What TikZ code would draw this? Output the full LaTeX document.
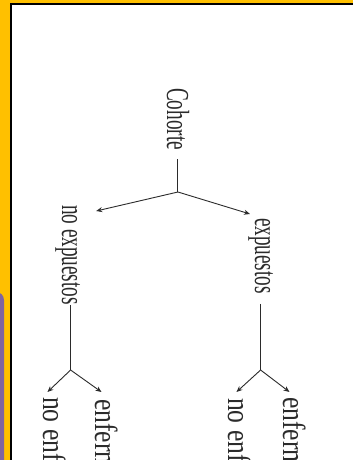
\documentclass[tikz,border=0pt]{standalone}
\usepackage{fontspec}
\setmainfont{Liberation Serif}
\usetikzlibrary{arrows.meta}
\definecolor{slideorange}{HTML}{FFC000}
\definecolor{slidepurple}{HTML}{8064A2}
\definecolor{inkgray}{HTML}{2B2B2B}

\begin{document}
\begin{tikzpicture}[x=1pt, y=-1pt,
  tword/.style={rotate=-90, anchor=base west, inner sep=0pt,
    font=\fontsize{32}{38}\selectfont, text=inkgray},
  grpword/.style={tword, xscale=0.6},
  outword/.style={tword, xscale=0.8},
  branch/.style={draw=inkgray, line width=0.9pt},
  arr/.style={branch, -{Stealth[length=6pt,width=5pt]}}]
  \useasboundingbox (0,0) rectangle (353,460);
  \clip (0,0) rectangle (353,460);

  % Slide background and frame
  \fill[slideorange] (0,0) rectangle (353,460);
  \fill[slidepurple, rounded corners=8pt] (-10,292) rectangle (4,470);
  \draw[line width=2.5pt, fill=white] (11,4) rectangle (370,480);

  % Levels of the tree
  \coordinate (lvl1) at (0,192);
  \coordinate (lvl2) at (0,370);

  % Cohort and exposure groups
  \node[grpword] (cohorte) at (167,88) {Cohorte};
  \node[grpword] (noexp) at (62,205) {no expuestos};
  \node[grpword] (exp) at (255,218) {expuestos};

  % Outcome groups
  \node[outword] (noenf1) at (43,397) {no enfermos};
  \node[outword] (enf1) at (95,399) {enfermos};
  \node[outword] (noenf2) at (228,398) {no enfermos};
  \node[outword] (enf2) at (283,397) {enfermos};

  % Cohort split
  \draw[branch, shorten <=9pt] (cohorte.east) -- (cohorte.east |- lvl1) coordinate (j0);
  \draw[arr] (j0) -- ([shift={(16,6)}]noexp.north west);
  \draw[arr] (j0) -- ([shift={(2,-4)}]exp.south west);

  % Unexposed split
  \draw[branch] ([xshift=3pt]noexp.east) -- ([xshift=3pt]noexp.east |- lvl2) coordinate (j1);
  \draw[arr] (j1) -- ([shift={(5,-5)}]noenf1.south west);
  \draw[arr] (j1) -- ([shift={(7,-7)}]enf1.south west);

  % Exposed split
  \draw[branch, shorten <=10pt] (exp.east) -- (exp.east |- lvl2) coordinate (j2);
  \draw[arr] (j2) -- ([shift={(9,-6)}]noenf2.south west);
  \draw[arr] (j2) -- ([shift={(7,-5)}]enf2.south west);
\end{tikzpicture}
\end{document}
